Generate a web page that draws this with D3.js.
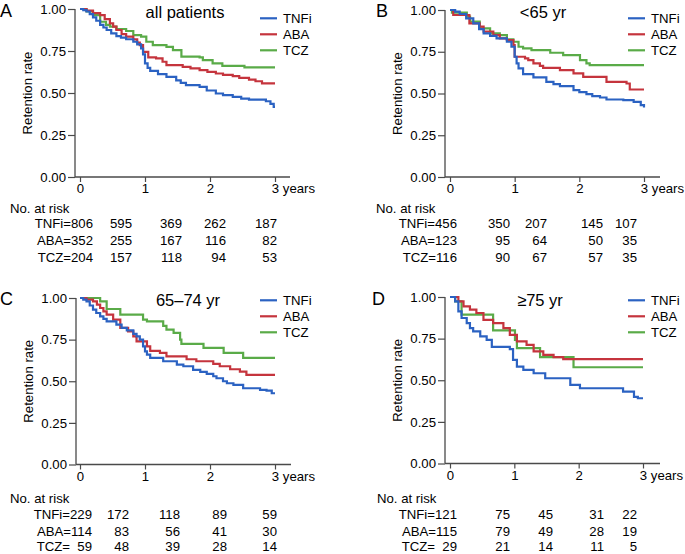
<!DOCTYPE html>
<html><head><meta charset="utf-8">
<script src="https://cdn.jsdelivr.net/npm/d3@7"></script>
<style>
body{margin:0;background:#fff;}
svg text{font-family:"Liberation Sans",Arial,Helvetica,sans-serif;fill:#000;}
</style></head>
<body><svg id="c" width="685" height="554"></svg>
<script>
// ---------------- DATA ----------------
const seriesNames = ["TNFi", "ABA", "TCZ"];
const xTicks = [0, 1, 2, 3];
const yTicks = [0, 0.25, 0.5, 0.75, 1.0];

// Panel A: all patients  [years, retention]
const A_TNFi = [[0,1],[0.05,0.993],[0.1,0.985],[0.15,0.97],[0.2,0.95],[0.25,0.93],[0.31,0.905],[0.36,0.89],[0.41,0.875],[0.48,0.855],[0.56,0.839],[0.63,0.83],[0.71,0.82],[0.82,0.805],[0.88,0.79],[0.94,0.765],[0.97,0.73],[1.0,0.676],[1.04,0.65],[1.08,0.632],[1.2,0.612],[1.33,0.596],[1.48,0.575],[1.55,0.56],[1.63,0.547],[1.84,0.537],[1.95,0.515],[2.09,0.497],[2.2,0.487],[2.35,0.477],[2.48,0.467],[2.6,0.461],[2.86,0.451],[2.93,0.435],[2.98,0.417],[3.0,0.417]];
const A_ABA = [[0,1],[0.1,0.99],[0.2,0.975],[0.31,0.964],[0.38,0.94],[0.46,0.915],[0.51,0.895],[0.56,0.875],[0.64,0.85],[0.71,0.835],[0.82,0.819],[0.88,0.8],[0.92,0.785],[0.97,0.745],[1.05,0.712],[1.17,0.706],[1.27,0.686],[1.33,0.666],[1.58,0.656],[1.7,0.646],[1.84,0.636],[1.96,0.626],[2.09,0.616],[2.2,0.608],[2.35,0.6],[2.45,0.59],[2.6,0.58],[2.7,0.57],[2.8,0.557],[3.0,0.557]];
const A_TCZ = [[0,1],[0.1,0.985],[0.2,0.964],[0.31,0.924],[0.4,0.905],[0.46,0.895],[0.56,0.881],[0.71,0.869],[0.82,0.845],[0.94,0.835],[1.02,0.805],[1.12,0.785],[1.33,0.775],[1.43,0.755],[1.56,0.716],[1.84,0.712],[1.89,0.696],[2.04,0.676],[2.19,0.662],[2.53,0.652],[3.0,0.652]];

// Panel B: <65 yr
const B_TNFi = [[0,1],[0.08,0.99],[0.15,0.976],[0.25,0.95],[0.36,0.92],[0.45,0.885],[0.52,0.86],[0.62,0.845],[0.72,0.83],[0.88,0.81],[0.95,0.78],[1.0,0.72],[1.03,0.68],[1.06,0.65],[1.13,0.616],[1.29,0.596],[1.49,0.57],[1.6,0.556],[1.7,0.544],[1.91,0.52],[2.0,0.508],[2.11,0.496],[2.2,0.484],[2.32,0.476],[2.42,0.464],[2.68,0.46],[2.84,0.45],[2.95,0.43],[3.0,0.416]];
const B_ABA = [[0,1],[0.05,0.97],[0.3,0.92],[0.46,0.9],[0.52,0.87],[0.67,0.85],[0.77,0.83],[0.88,0.82],[0.98,0.79],[1.0,0.72],[1.16,0.71],[1.21,0.7],[1.29,0.68],[1.39,0.666],[1.44,0.654],[1.7,0.64],[1.91,0.62],[2.06,0.6],[2.42,0.57],[2.73,0.56],[2.78,0.524],[3.0,0.524]];
const B_TCZ = [[0,1],[0.03,0.984],[0.26,0.96],[0.31,0.93],[0.46,0.89],[0.62,0.86],[0.77,0.85],[0.88,0.824],[0.98,0.81],[1.06,0.78],[1.13,0.77],[1.26,0.76],[1.55,0.744],[1.75,0.73],[2.01,0.7],[2.11,0.68],[2.16,0.67],[3.0,0.67]];

// Panel C: 65–74 yr
const C_TNFi = [[0,1],[0.05,0.99],[0.1,0.98],[0.15,0.955],[0.2,0.93],[0.25,0.91],[0.31,0.89],[0.36,0.875],[0.41,0.86],[0.56,0.84],[0.64,0.82],[0.72,0.805],[0.82,0.785],[0.87,0.77],[0.92,0.75],[0.97,0.71],[1.0,0.68],[1.03,0.66],[1.08,0.64],[1.28,0.62],[1.49,0.6],[1.59,0.59],[1.74,0.568],[1.85,0.556],[1.95,0.544],[2.05,0.53],[2.1,0.518],[2.2,0.5],[2.26,0.488],[2.36,0.478],[2.51,0.458],[2.77,0.448],[2.87,0.444],[2.95,0.428],[3.0,0.428]];
const C_ABA = [[0,1],[0.1,0.99],[0.2,0.98],[0.26,0.96],[0.31,0.94],[0.36,0.92],[0.41,0.9],[0.51,0.87],[0.62,0.82],[0.74,0.8],[0.82,0.77],[0.87,0.74],[1.03,0.71],[1.08,0.683],[1.23,0.67],[1.33,0.65],[1.64,0.632],[1.79,0.62],[2.05,0.604],[2.15,0.59],[2.31,0.572],[2.46,0.558],[2.56,0.538],[3.0,0.538]];
const C_TCZ = [[0,1],[0.31,0.98],[0.41,0.934],[0.62,0.9],[0.97,0.87],[1.03,0.86],[1.28,0.833],[1.33,0.81],[1.44,0.79],[1.54,0.75],[1.56,0.725],[1.9,0.7],[2.21,0.67],[2.51,0.64],[3.0,0.64]];

// Panel D: ≥75 yr
const D_TNFi = [[0,1],[0.08,0.974],[0.13,0.914],[0.18,0.874],[0.26,0.843],[0.31,0.813],[0.36,0.793],[0.47,0.763],[0.57,0.743],[0.65,0.7],[0.93,0.687],[0.98,0.622],[1.04,0.582],[1.14,0.562],[1.3,0.542],[1.48,0.512],[1.87,0.472],[2.02,0.452],[2.69,0.432],[2.86,0.4],[2.92,0.392],[3.0,0.392]];
const D_ABA = [[0,1],[0.13,0.974],[0.21,0.944],[0.31,0.924],[0.41,0.904],[0.52,0.863],[0.67,0.843],[0.83,0.813],[0.93,0.773],[1.04,0.733],[1.19,0.713],[1.3,0.673],[1.45,0.653],[1.61,0.639],[1.76,0.627],[3.0,0.627]];
const D_TCZ = [[0,1],[0.08,0.974],[0.18,0.894],[0.67,0.8],[1.01,0.743],[1.04,0.693],[1.4,0.639],[1.92,0.578],[3.0,0.578]];

// Numbers at risk (baseline, then four follow-up columns)
const riskA_TNFi = [806, 595, 369, 262, 187];
const riskA_ABA  = [352, 255, 167, 116, 82];
const riskA_TCZ  = [204, 157, 118, 94, 53];
const riskB_TNFi = [456, 350, 207, 145, 107];
const riskB_ABA  = [123, 95, 64, 50, 35];
const riskB_TCZ  = [116, 90, 67, 57, 35];
const riskC_TNFi = [229, 172, 118, 89, 59];
const riskC_ABA  = [114, 83, 56, 41, 30];
const riskC_TCZ  = [59, 48, 39, 28, 14];
const riskD_TNFi = [121, 75, 45, 31, 22];
const riskD_ABA  = [115, 79, 49, 28, 19];
const riskD_TCZ  = [29, 21, 14, 11, 5];

const titles = ["all patients", "<65 yr", "65\u201374 yr", "\u226575 yr"];
const letters = ["A", "B", "C", "D"];

// ---------------- LAYOUT / STYLE ----------------
const colors = {TNFi: "#2b62c2", ABA: "#c5343d", TCZ: "#5aab48"};
const axisColor = "#4a4a4a";

const panels = [
  {series: [A_TNFi, A_ABA, A_TCZ], risk: [riskA_TNFi, riskA_ABA, riskA_TCZ],
   ax: 75, x0: 80, x3: 275, xEnd: 290, yTop: 9, yBot: 177,
   letterX: 0, letterY: 17, titleX: 185, titleY: 18, legX: 260, legY: 23,
   tabLeft: 10, noY: 213, rowY: [228, 245, 262], firstRight: 93, colRight: [132, 182, 226, 277]},
  {series: [B_TNFi, B_ABA, B_TCZ], risk: [riskB_TNFi, riskB_ABA, riskB_TCZ],
   ax: 445, x0: 450, x3: 644, xEnd: 660, yTop: 10, yBot: 177,
   letterX: 376, letterY: 17, titleX: 543, titleY: 18, legX: 628, legY: 23,
   tabLeft: 376, noY: 213, rowY: [228, 245, 262], firstRight: 457, colRight: [510, 547, 603, 637]},
  {series: [C_TNFi, C_ABA, C_TCZ], risk: [riskC_TNFi, riskC_ABA, riskC_TCZ],
   ax: 76, x0: 80, x3: 275, xEnd: 291, yTop: 298, yBot: 464.5,
   letterX: 0, letterY: 305, titleX: 188, titleY: 306, legX: 260, legY: 305,
   tabLeft: 10, noY: 503, rowY: [519, 535.5, 551], firstRight: 92, colRight: [129, 180, 227, 277]},
  {series: [D_TNFi, D_ABA, D_TCZ], risk: [riskD_TNFi, riskD_ABA, riskD_TCZ],
   ax: 445, x0: 450, x3: 643, xEnd: 660, yTop: 297, yBot: 463.5,
   letterX: 372, letterY: 305, titleX: 540, titleY: 306, legX: 628, legY: 305,
   tabLeft: 377, noY: 503, rowY: [519, 535.5, 551], firstRight: 457, colRight: [510, 553, 604, 637]}
];

const svg = d3.select("#c");
const FS = 13.2;

panels.forEach((p, i) => {
  const g = svg.append("g");
  const x = d3.scaleLinear().domain([0, 3]).range([p.x0, p.x3]);
  const y = d3.scaleLinear().domain([0, 1]).range([p.yBot, p.yTop]);

  // y axis
  const ya = g.append("g").attr("transform", `translate(${p.ax},0)`)
    .call(d3.axisLeft(y).tickValues(yTicks).tickFormat(d3.format(".2f")).tickSize(7).tickPadding(2));
  ya.select(".domain").remove();
  ya.selectAll("line").attr("stroke", axisColor).attr("stroke-width", 1.2);
  ya.selectAll("text").attr("font-size", FS).attr("fill", "#000")
    .attr("font-family", '"Liberation Sans",Arial,sans-serif');
  g.append("line").attr("x1", p.ax).attr("x2", p.ax).attr("y1", p.yTop).attr("y2", p.yBot)
    .attr("stroke", axisColor).attr("stroke-width", 1.3);

  // x axis
  const xa = g.append("g").attr("transform", `translate(0,${p.yBot})`)
    .call(d3.axisBottom(x).tickValues(xTicks).tickFormat(d => d === 3 ? "3 years" : d).tickSize(5).tickPadding(2));
  xa.select(".domain").remove();
  xa.selectAll("line").attr("stroke", axisColor).attr("stroke-width", 1.2);
  xa.selectAll("text").attr("font-size", FS).attr("fill", "#000")
    .attr("font-family", '"Liberation Sans",Arial,sans-serif')
    .attr("text-anchor", d => d === 3 ? "start" : "middle")
    .attr("dx", d => d === 3 ? -3.7 : 0);
  g.append("line").attr("x1", p.ax).attr("x2", p.xEnd).attr("y1", p.yBot).attr("y2", p.yBot)
    .attr("stroke", axisColor).attr("stroke-width", 1.3);

  // y label
  g.append("text").attr("transform", `translate(${p.ax - 43},${(p.yTop + p.yBot) / 2}) rotate(-90)`)
    .attr("text-anchor", "middle").attr("font-size", FS).text("Retention rate");

  // curves
  const line = d3.line().x(d => x(d[0])).y(d => y(d[1])).curve(d3.curveStepAfter);
  [2, 1, 0].forEach(k => {
    g.append("path").datum(p.series[k]).attr("d", line).attr("fill", "none")
      .attr("stroke", colors[seriesNames[k]]).attr("stroke-width", 2.2);
  });

  // letter and title
  g.append("text").attr("x", p.letterX).attr("y", p.letterY).attr("font-size", 18).text(letters[i]);
  g.append("text").attr("x", p.titleX).attr("y", p.titleY).attr("text-anchor", "middle")
    .attr("font-size", 16.5).text(titles[i]);

  // legend
  seriesNames.forEach((s, k) => {
    const ly = p.legY + k * 16;
    g.append("line").attr("x1", p.legX).attr("x2", p.legX + 17).attr("y1", ly - 4.7).attr("y2", ly - 4.7)
      .attr("stroke", colors[s]).attr("stroke-width", 2.2);
    g.append("text").attr("x", p.legX + 23).attr("y", ly).attr("font-size", FS).text(s);
  });

  // numbers at risk
  g.append("text").attr("x", p.tabLeft).attr("y", p.noY).attr("font-size", FS).text("No. at risk");
  seriesNames.forEach((s, k) => {
    const r = p.risk[k];
    const first = r[0] < 100 ? `${s}=\u2007${r[0]}` : `${s}=${r[0]}`;
    g.append("text").attr("x", p.firstRight).attr("y", p.rowY[k]).attr("text-anchor", "end")
      .attr("font-size", FS).text(first);
    r.slice(1).forEach((v, j) => {
      g.append("text").attr("x", p.colRight[j]).attr("y", p.rowY[k]).attr("text-anchor", "end")
        .attr("font-size", FS).text(v);
    });
  });
});
</script></body></html>
